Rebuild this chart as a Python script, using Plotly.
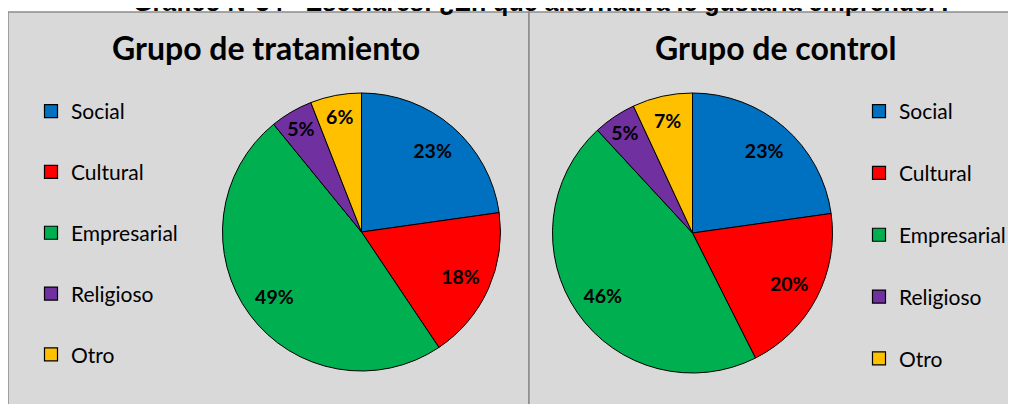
import plotly.graph_objects as go

categories = ["Social", "Cultural", "Empresarial", "Religioso", "Otro"]
tratamiento = [23, 18, 49, 5, 6]
control = [23, 20, 46, 5, 7]
colors = ["#0070C0", "#FF0000", "#00B050", "#7030A0", "#FFC000"]
titulo = "Gráfico N°34 - Escolares: ¿En qué alternativa le gustaría emprender?"
sub_titles = ["Grupo de tratamiento", "Grupo de control"]

W, H = 1016, 404
FONT = "Lato"
OFF = 8  # page body margin in the browser

def px(x):
    return (x - OFF) / W

def py(y):
    return 1 - (y - OFF) / H

fig = go.Figure()

pie_domains = [
    dict(x=[px(222), px(501)], y=[py(371), py(93)]),
    dict(x=[px(552), px(833)], y=[py(373), py(93)]),
]

for vals, dom in zip([tratamiento, control], pie_domains):
    # filled pie
    fig.add_trace(go.Pie(
        labels=categories, values=vals, sort=False, direction="clockwise", rotation=0,
        domain=dom,
        marker=dict(colors=colors, line=dict(color="black", width=1)),
        textinfo="none", showlegend=False, hoverinfo="label+value",
    ))
    # transparent ring carrying the data labels (places them near 3/4 radius)
    fig.add_trace(go.Pie(
        labels=categories, values=vals, sort=False, direction="clockwise", rotation=0,
        domain=dom, hole=0.56,
        marker=dict(colors=["rgba(0,0,0,0)"] * len(vals), line=dict(width=0)),
        texttemplate="%{value}%", textposition="inside", insidetextorientation="horizontal",
        textfont=dict(family=FONT, size=19.5, color="black", weight="bold"),
        showlegend=False, hoverinfo="skip",
    ))

# legend entries
for leg in ["legend", "legend2"]:
    for i, (c, col) in enumerate(zip(categories, colors)):
        fig.add_trace(go.Scatter(
            x=[None], y=[None], mode="markers", name=c,
            marker=dict(symbol="square", size=13, color=col, line=dict(color="black", width=1.2)),
            legendgroup=f"{leg}_{i}", legend=leg, showlegend=True,
        ))

fig.update_layout(
    width=W, height=H,
    margin=dict(l=0, r=0, t=0, b=0),
    paper_bgcolor="white", plot_bgcolor="rgba(0,0,0,0)",
    xaxis=dict(visible=False), yaxis=dict(visible=False),
    uniformtext=dict(minsize=19.5, mode="show"),
    legend=dict(x=px(31), y=py(91), xanchor="left", yanchor="top",
                font=dict(family=FONT, size=21, color="black"),
                bgcolor="rgba(0,0,0,0)", tracegroupgap=30.5, itemsizing="trace"),
    legend2=dict(x=px(859), y=py(91), xanchor="left", yanchor="top",
                 font=dict(family=FONT, size=21, color="black"),
                 bgcolor="rgba(0,0,0,0)", tracegroupgap=31.5, itemsizing="trace"),
    shapes=[
        dict(type="rect", xref="paper", yref="paper", x0=px(8), x1=px(529), y0=-0.1, y1=py(12),
             fillcolor="#D9D9D9", line=dict(color="#8C8C8C", width=1.5), layer="below"),
        dict(type="rect", xref="paper", yref="paper", x0=px(529), x1=1.1, y0=-0.1, y1=py(12),
             fillcolor="#D9D9D9", line=dict(color="#8C8C8C", width=1.5), layer="below"),
    ],
    annotations=[
        dict(text=titulo, x=px(543), y=py(18), xref="paper", yref="paper", showarrow=False,
             xanchor="center", yanchor="bottom",
             font=dict(family="Liberation Sans", size=25, color="black", weight="bold")),
        dict(text=sub_titles[0], x=px(266), y=py(48), xref="paper", yref="paper", showarrow=False,
             xanchor="center", yanchor="middle",
             font=dict(family=FONT, size=32, color="black", weight="bold")),
        dict(text=sub_titles[1], x=px(775), y=py(48), xref="paper", yref="paper", showarrow=False,
             xanchor="center", yanchor="middle",
             font=dict(family=FONT, size=32, color="black", weight="bold")),
    ],
)

fig.write_html("out.html")
